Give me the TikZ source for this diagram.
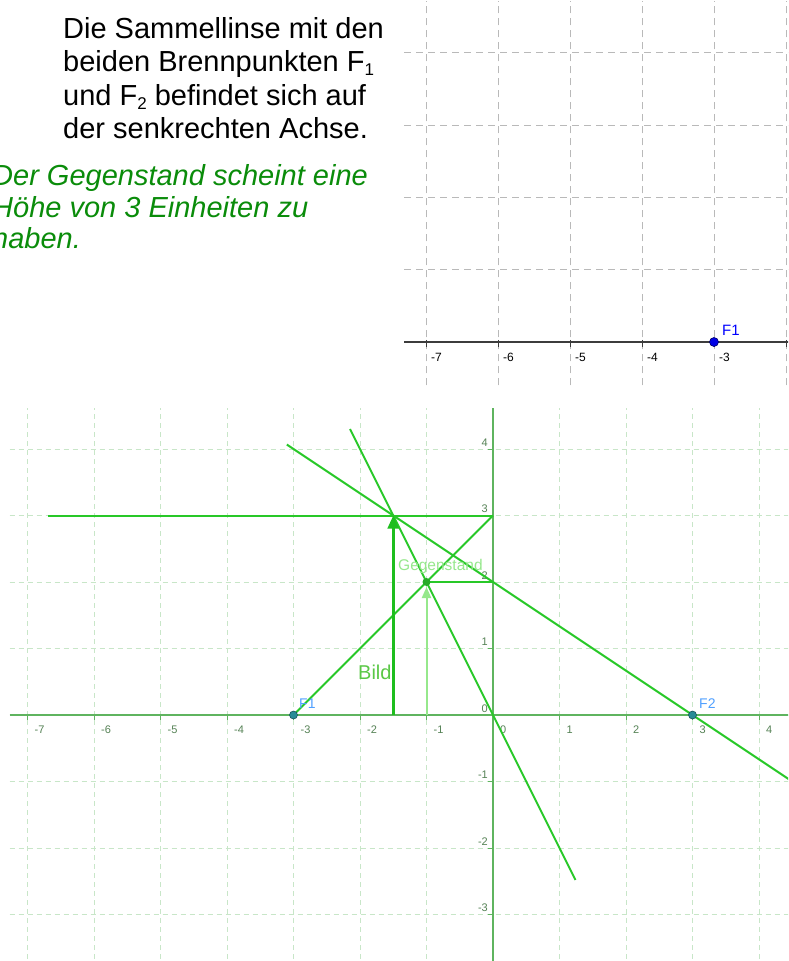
\documentclass[tikz,border=0pt]{standalone}
\usepackage{fontspec}
\setmainfont{Liberation Sans}
\usetikzlibrary{arrows.meta}
\definecolor{raygreen}{RGB}{40,200,40}
\definecolor{bildgreen}{RGB}{30,190,30}
\definecolor{ggreen}{RGB}{150,232,140}
\definecolor{gpoint}{RGB}{40,170,40}
\definecolor{axgreen}{RGB}{95,180,95}
\definecolor{gridgreen}{RGB}{200,230,200}
\definecolor{labgreen}{RGB}{85,130,85}
\definecolor{txtgreen}{RGB}{10,140,10}
\definecolor{fblue}{RGB}{80,160,255}
\definecolor{fteal}{RGB}{40,140,150}
\definecolor{gridgray}{RGB}{185,185,185}
\definecolor{axgray}{RGB}{60,60,60}
\newcommand{\lowsub}[1]{\raisebox{-4pt}{\fontsize{17}{17}\selectfont #1}}
\tikzset{
  bigtext/.style={anchor=base west, inner sep=0pt, font=\fontsize{29}{33}\selectfont},
  greentext/.style={bigtext, text=txtgreen, font=\fontsize{29}{33}\selectfont\itshape},
  ggrid/.style={gridgreen, line width=0.9pt, dash pattern=on 5pt off 4pt},
  tgrid/.style={gridgray, line width=0.9pt, dash pattern=on 7pt off 5pt},
  gaxis/.style={axgreen, line width=1.3pt},
  taxis/.style={axgray, line width=1.2pt},
  ray/.style={raygreen, line width=2pt},
  bildarrow/.style={bildgreen, line width=2.6pt, -{Triangle[length=13pt,width=11pt]}},
  garrow/.style={ggreen, line width=2pt, -{Triangle[length=11pt,width=9pt]}, shorten >=5pt},
  xlab/.style={anchor=base west, inner sep=0pt, text=labgreen, font=\fontsize{11}{11}\selectfont},
  ylab/.style={anchor=base east, inner sep=0pt, text=labgreen, font=\fontsize{11}{11}\selectfont},
  tlab/.style={anchor=base west, inner sep=0pt, text=black, font=\fontsize{12}{12}\selectfont},
  flab/.style={anchor=base west, inner sep=0pt, text=fblue, font=\fontsize{14}{14}\selectfont},
}
\begin{document}
\begin{tikzpicture}[x=1pt,y=-1pt]
\useasboundingbox (0,0) rectangle (788,961);
\clip (0,0) rectangle (788,961);
\fill[white] (0,0) rectangle (788,961);

% ---------- text ----------
\node[bigtext] (t1) at (63,38) {Die Sammellinse mit den};
\node[bigtext] (t2) at (63,71.5) {beiden Brennpunkten F\lowsub{1}};
\node[bigtext] (t3) at (63,105) {und F\lowsub{2} befindet sich auf};
\node[bigtext] (t4) at (63,138) {der senkrechten Achse.};
\node[greentext] (g1) at (-8,185) {Der Gegenstand scheint eine};
\node[greentext] (g2) at (-8,217) {Höhe von 3 Einheiten zu};
\node[greentext] (g3) at (-8,248) {haben.};

% ---------- top graph ----------
\begin{scope}[shift={(930pt,-342pt)}, x=72pt, y=72.3pt]
  \foreach \k in {-7,...,-2} \draw[tgrid] (\k,-0.6) -- (\k,4.72);
  \foreach \k in {1,...,4} \draw[tgrid] (-7.3,\k) -- (-1.9,\k);
  \draw[taxis] (-7.3,0) -- (-1.9,0);
  \foreach \k in {-7,...,-2} \draw[taxis, line width=1pt] (\k,0.03) -- (\k,-0.07);
  \foreach \k in {-7,...,-3} \node[tlab] (tl\k) at ([xshift=5pt,yshift=-19pt]\k,0) {\k};
  \coordinate (TF1) at (-3,0);
  \fill[blue!90!black, draw=blue!40!black, line width=0.6pt] (TF1) circle (4.5pt);
  \node[flab, text=blue, font=\fontsize{15}{15}\selectfont] (tf1) at ([xshift=8pt,yshift=7pt]TF1) {F1};
\end{scope}

% ---------- bottom graph ----------
\begin{scope}[shift={(493pt,-715pt)}, x=66.5pt, y=66.5pt]
  \foreach \k in {-7,...,4} \draw[ggrid] (\k,-3.8) -- (\k,4.62);
  \foreach \k in {-3,...,4} \draw[ggrid] (-7.27,\k) -- (4.5,\k);
  \draw[gaxis] (-7.27,0) -- (4.5,0);
  \draw[gaxis] (0,-3.8) -- (0,4.62);
  \foreach \k in {-7,...,-1,1,2,3,4} \draw[gaxis, line width=1pt] (\k,0.02) -- (\k,-0.07);
  \foreach \k in {-3,-2,-1,1,2,3,4} \draw[gaxis, line width=1pt] (0,\k) -- (-0.07,\k);
  \foreach \k in {-7,...,4} \node[xlab] (xl\k) at ([xshift=7pt,yshift=-18pt]\k,0) {\k};
  \foreach \k in {-3,...,4} \node[ylab] (yl\k) at ([xshift=-5pt,yshift=3pt]0,\k) {\k};

  \coordinate (O) at (0,0);
  \coordinate (F1) at (-3,0);
  \coordinate (F2) at (3,0);
  \coordinate (G) at (-1,2);
  \coordinate (Gb) at (-1,0);
  \coordinate (B) at (-1.5,3);
  \coordinate (Bb) at (-1.5,0);
  \coordinate (L3) at (0,3);
  \coordinate (L2) at (0,2);
  \coordinate (H3) at (-6.69,3);
  \coordinate (R4a) at (-3.1,4.067);
  \coordinate (R4b) at (4.5,-1);
  \coordinate (R5a) at (-2.15,4.3);
  \coordinate (R5b) at (1.24,-2.48);

  \draw[ray] (H3) -- (L3);
  \draw[ray] (G) -- (L2);
  \draw[ray] (F1) -- (L3);
  \draw[ray] (R4a) -- (R4b);
  \draw[ray] (R5a) -- (R5b);

  \draw[garrow] (Gb) -- (G);
  \draw[bildarrow] (Bb) -- (B);

  \fill[gpoint] (G) circle (4pt);
  \fill[fteal, draw=fteal!60!black, line width=0.6pt] (F1) circle (4pt);
  \fill[fteal, draw=fteal!60!black, line width=0.6pt] (F2) circle (4pt);
\end{scope}

\node[anchor=base west, inner sep=0pt, text=ggreen, font=\fontsize{15.5}{15.5}\selectfont] (glab) at (398,570) {Gegenstand};
\node[anchor=base west, inner sep=0pt, text={rgb,255:red,90;green,200;blue,70}, font=\fontsize{20}{20}\selectfont] (blab) at (358,679) {Bild};
\node[flab] (f1lab) at (299,708) {F1};
\node[flab] (f2lab) at (699,708) {F2};
\end{tikzpicture}
\end{document}
